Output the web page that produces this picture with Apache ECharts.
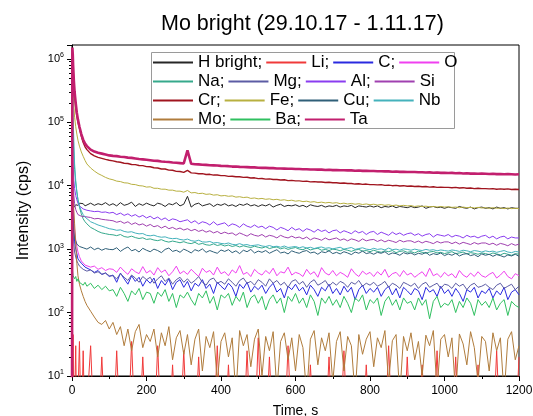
<!DOCTYPE html>
<html>
<head>
<meta charset="utf-8">
<script src="https://cdn.jsdelivr.net/npm/echarts@6/dist/echarts.min.js"></script>
<style>
  html, body { margin: 0; padding: 0; background: #fff; }
  #chart { width: 533px; height: 416px; }
</style>
</head>
<body>
<div id="chart"></div>
<script>
// time, s
var times = [0, 1, 2, 3, 5, 7, 10, 13, 16, 20, 25, 30, 35, 40, 50, 60, 70, 80, 90, 100,
  110, 120, 130, 140, 150, 160, 170, 180, 190, 200,
  210, 220, 230, 240, 250, 260, 270, 280, 290, 300,
  310, 320, 330, 340, 350, 360, 370, 380, 390, 400,
  410, 420, 430, 440, 450, 460, 470, 480, 490, 500,
  510, 520, 530, 540, 550, 560, 570, 580, 590, 600,
  610, 620, 630, 640, 650, 660, 670, 680, 690, 700,
  710, 720, 730, 740, 750, 760, 770, 780, 790, 800,
  810, 820, 830, 840, 850, 860, 870, 880, 890, 900,
  910, 920, 930, 940, 950, 960, 970, 980, 990, 1000,
  1010, 1020, 1030, 1040, 1050, 1060, 1070, 1080, 1090, 1100,
  1110, 1120, 1130, 1140, 1150, 1160, 1170, 1180, 1190, 1200];

var hBright = [100, 2000, 3500, 4200, 4600, 4800, 5000, 5200, 4900, 5300, 5000, 5200, 4800, 5100, 5300, 4900, 5200, 5000, 5400, 4900,
  5200, 4800, 5400, 4900, 5100, 5500, 4700, 5200, 4900, 5300,
  5000, 4800, 5300, 5100, 4700, 5200, 5000, 5400, 4800, 5100,
  6800, 4600, 5100, 5300, 4800, 5000, 5200, 4700, 5100, 4900,
  5200, 4800, 5000, 4700, 5100, 4900, 5200, 4800, 5000, 4700,
  5000, 4800, 5100, 4600, 4900, 5100, 4700, 4900, 4800, 5000,
  4700, 4900, 4600, 5000, 4800, 4700, 4900, 4600, 4800, 4700,
  4900, 4600, 4800, 4700, 4900, 4500, 4800, 4700, 4600, 4800,
  4600, 4800, 4500, 4700, 4600, 4800, 4500, 4700, 4600, 4500,
  4700, 4500, 4600, 4800, 4400, 4600, 4700, 4500, 4600, 4400,
  4600, 4500, 4400, 4700, 4500, 4400, 4600, 4300, 4500, 4600,
  4400, 4500, 4300, 4600, 4400, 4500, 4300, 4500, 4400, 4400];

var li = [60, 1, 1, 45, 1, 1, 30, 1, 1, 35, 1, 25, 1, 1, 30, 1, 1, 20, 1, 1,
  1, 25, 1, 1, 1, 35, 1, 1, 20, 1,
  1, 1, 30, 1, 1, 1, 15, 1, 1, 25,
  1, 1, 1, 20, 1, 1, 1, 1, 30, 1,
  1, 15, 1, 1, 1, 1, 25, 1, 1, 40,
  1, 1, 20, 1, 1, 1, 1, 30, 1, 1,
  1, 1, 1, 15, 1, 1, 1, 1, 20, 1,
  1, 1, 25, 1, 1, 1, 1, 1, 15, 1,
  1, 1, 1, 1, 30, 1, 1, 1, 1, 20,
  1, 1, 1, 15, 1, 1, 1, 25, 1, 1,
  1, 1, 20, 1, 1, 1, 1, 1, 15, 1,
  1, 1, 1, 25, 1, 1, 1, 1, 1, 20];

var c = [800, 20000, 8000, 4000, 2000, 1300, 1000, 850, 700, 650, 600, 560, 520, 540, 470, 430, 460, 400, 420, 370,
  390, 300, 420, 340, 280, 380, 310, 360, 260, 330,
  290, 350, 240, 320, 270, 340, 230, 300, 330, 250,
  310, 220, 290, 260, 330, 240, 280, 200, 300, 260,
  230, 290, 250, 180, 280, 240, 300, 210, 260, 230,
  270, 200, 250, 290, 210, 240, 170, 260, 230, 280,
  220, 250, 190, 270, 230, 180, 250, 220, 280, 200,
  240, 190, 260, 210, 250, 160, 230, 270, 200, 240,
  210, 250, 180, 230, 260, 190, 240, 170, 250, 220,
  190, 240, 220, 160, 250, 210, 230, 180, 260, 200,
  230, 180, 240, 200, 150, 230, 210, 250, 170, 220,
  200, 240, 170, 220, 190, 250, 160, 210, 230, 190];

var o = [1000, 30000, 12000, 6000, 3000, 2000, 1400, 1100, 900, 760, 650, 620, 560, 600, 520, 540, 480, 510, 460, 490,
  480, 430, 520, 450, 400, 490, 440, 410, 530, 420,
  460, 390, 510, 430, 470, 380, 440, 540, 410, 450,
  400, 480, 420, 370, 500, 430, 460, 390, 520, 410,
  440, 380, 470, 420, 550, 400, 430, 370, 480, 420,
  390, 460, 410, 500, 380, 440, 420, 520, 390, 430,
  410, 370, 480, 400, 440, 360, 510, 420, 390, 460,
  380, 430, 400, 360, 490, 410, 370, 450, 400, 430,
  370, 440, 390, 480, 360, 410, 430, 370, 460, 390,
  420, 360, 400, 440, 370, 500, 380, 410, 360, 430,
  380, 410, 350, 460, 390, 360, 420, 370, 440, 380,
  360, 400, 430, 350, 390, 450, 370, 340, 410, 380];

var na = [5000, 200000, 100000, 60000, 30000, 18000, 11000, 8000, 6000, 4600, 3600, 3000, 2700, 2500, 2200, 2050, 1900, 1800, 1750, 1700,
  1680, 1630, 1700, 1580, 1540, 1600, 1520, 1470, 1510, 1420,
  1450, 1390, 1360, 1410, 1330, 1290, 1340, 1300, 1260, 1310,
  1250, 1220, 1280, 1190, 1230, 1170, 1150, 1210, 1140, 1180,
  1120, 1160, 1100, 1140, 1080, 1130, 1090, 1060, 1110, 1070,
  1040, 1090, 1020, 1060, 1080, 1010, 1050, 990, 1030, 1060,
  1000, 980, 1040, 970, 1010, 1030, 960, 990, 950, 1000,
  980, 940, 990, 960, 920, 970, 990, 930, 950, 910,
  960, 920, 890, 940, 910, 950, 880, 920, 940, 890,
  910, 870, 930, 890, 860, 900, 920, 870, 890, 850,
  880, 910, 850, 870, 900, 840, 880, 860, 830, 870,
  850, 820, 870, 840, 810, 860, 830, 800, 850, 830];

var mg = [800, 6000, 3000, 1800, 1200, 900, 750, 650, 600, 540, 520, 480, 500, 450, 470, 420, 440, 400, 420, 380,
  380, 340, 410, 360, 320, 390, 350, 300, 370, 330,
  360, 290, 340, 380, 310, 350, 280, 330, 360, 300,
  340, 290, 320, 370, 300, 270, 330, 350, 290, 310,
  280, 340, 300, 260, 320, 350, 290, 310, 270, 330,
  300, 260, 340, 290, 320, 270, 300, 250, 310, 330,
  280, 310, 250, 300, 330, 270, 290, 320, 260, 300,
  270, 310, 290, 250, 300, 280, 320, 260, 290, 270,
  300, 260, 280, 310, 250, 290, 270, 240, 300, 280,
  260, 290, 240, 280, 300, 250, 270, 290, 240, 280,
  270, 240, 290, 260, 280, 230, 270, 290, 250, 260,
  280, 250, 230, 270, 290, 240, 260, 280, 230, 260];

var al = [2000, 60000, 30000, 20000, 12000, 9000, 7000, 6000, 5300, 4800, 4500, 4300, 4200, 4100, 4000, 3900, 3950, 3800, 3850, 3700,
  3800, 3500, 3700, 3400, 3600, 3300, 3500, 3200, 3400, 3100,
  3300, 3000, 3200, 2900, 3100, 2800, 3000, 2900, 2700, 2800,
  2900, 2600, 2800, 2500, 2700, 2600, 2400, 2700, 2400, 2500,
  2600, 2300, 2500, 2400, 2200, 2500, 2300, 2200, 2400, 2200,
  2300, 2100, 2300, 2200, 2000, 2200, 2100, 1950, 2200, 2000,
  2100, 1900, 2100, 2000, 1850, 2050, 1900, 2000, 1800, 1950,
  2000, 1800, 1950, 1850, 1750, 1950, 1800, 1900, 1700, 1850,
  1900, 1700, 1850, 1750, 1650, 1850, 1700, 1800, 1650, 1750,
  1800, 1650, 1750, 1600, 1700, 1750, 1550, 1700, 1650, 1600,
  1700, 1550, 1650, 1600, 1500, 1650, 1550, 1600, 1500, 1600,
  1650, 1500, 1600, 1450, 1550, 1600, 1450, 1550, 1500, 1500];

var si = [1500, 40000, 20000, 12000, 7000, 5200, 4200, 3800, 3500, 3400, 3300, 3200, 3250, 3100, 3150, 3000, 3050, 2950, 2900, 2850,
  2800, 2650, 2750, 2550, 2700, 2450, 2600, 2400, 2500, 2300,
  2450, 2250, 2350, 2150, 2300, 2100, 2200, 2050, 2150, 2000,
  2100, 1950, 2050, 1900, 2000, 1850, 1950, 1800, 1900, 1750,
  1850, 1750, 1800, 1650, 1800, 1700, 1600, 1750, 1650, 1600,
  1700, 1550, 1650, 1600, 1500, 1650, 1550, 1500, 1600, 1500,
  1550, 1450, 1550, 1400, 1500, 1450, 1380, 1500, 1400, 1450,
  1500, 1380, 1450, 1350, 1450, 1400, 1320, 1450, 1350, 1400,
  1420, 1320, 1400, 1300, 1380, 1330, 1270, 1380, 1300, 1350,
  1350, 1270, 1340, 1250, 1330, 1280, 1220, 1320, 1250, 1300,
  1300, 1220, 1290, 1200, 1280, 1230, 1180, 1270, 1200, 1250,
  1250, 1180, 1240, 1150, 1230, 1190, 1130, 1220, 1150, 1200];

var cr = [1, 1200000, 1000000, 700000, 400000, 260000, 170000, 125000, 100000, 80000, 60000, 48000, 41000, 37000, 32000, 29500, 28000, 27000, 26000, 25200,
  24600, 23800, 23400, 22600, 22400, 21600, 21500, 20800, 20700, 20000,
  19900, 19200, 19000, 18300, 18300, 17600, 17500, 16800, 16700, 16200,
  17400, 15900, 15800, 15400, 15500, 15000, 15100, 14700, 14700, 14400,
  14400, 14000, 14100, 13800, 13800, 13500, 13600, 13200, 13300, 12900,
  13000, 12700, 12800, 12500, 12500, 12300, 12400, 12000, 12100, 11900,
  11900, 11700, 11800, 11500, 11600, 11400, 11400, 11200, 11300, 11100,
  11100, 10900, 11000, 10800, 10800, 10600, 10700, 10500, 10600, 10400,
  10400, 10300, 10400, 10100, 10200, 10000, 10100, 9900, 10000, 9800,
  9900, 9700, 9800, 9600, 9700, 9500, 9600, 9400, 9500, 9400,
  9400, 9300, 9400, 9200, 9300, 9100, 9200, 9000, 9100, 9000,
  9000, 8900, 9000, 8800, 8900, 8800, 8900, 8700, 8800, 8700];

var fe = [500000, 800000, 500000, 300000, 180000, 120000, 85000, 65000, 52000, 42000, 34000, 29000, 25000, 22000, 19000, 17000, 15500, 14500, 13500, 12800,
  12400, 11800, 11600, 11100, 11000, 10500, 10400, 10000, 9900, 9500,
  9600, 9100, 9100, 8800, 8800, 8500, 8500, 8200, 8200, 7900,
  8400, 7700, 7800, 7500, 7600, 7300, 7400, 7100, 7200, 6900,
  7000, 6800, 6900, 6600, 6700, 6500, 6600, 6300, 6400, 6200,
  6300, 6100, 6200, 6000, 6100, 5900, 6000, 5800, 5900, 5700,
  5800, 5600, 5700, 5500, 5600, 5400, 5500, 5350, 5450, 5300,
  5400, 5200, 5300, 5150, 5250, 5100, 5200, 5050, 5150, 5000,
  5100, 4950, 5050, 4900, 5000, 4850, 4950, 4800, 4900, 4800,
  4850, 4700, 4800, 4700, 4750, 4650, 4700, 4600, 4700, 4600,
  4650, 4550, 4600, 4500, 4600, 4500, 4550, 4450, 4550, 4450,
  4500, 4400, 4500, 4400, 4450, 4350, 4450, 4350, 4400, 4350];

var cu = [1500, 8000, 4000, 2500, 1800, 1500, 1350, 1200, 1250, 1100, 1150, 1050, 1100, 1000, 1080, 980, 1040, 960, 1020, 990,
  980, 1050, 920, 1010, 1080, 940, 990, 900, 1030, 960,
  910, 1000, 950, 880, 990, 1040, 920, 960, 890, 1000,
  940, 870, 980, 930, 1010, 890, 950, 900, 860, 970,
  920, 980, 880, 940, 850, 960, 910, 990, 870, 930,
  890, 950, 860, 920, 980, 870, 900, 840, 940, 890,
  860, 920, 950, 870, 900, 830, 910, 880, 940, 850,
  890, 840, 910, 870, 820, 900, 860, 930, 850, 880,
  830, 890, 860, 910, 820, 870, 850, 800, 880, 840,
  870, 810, 860, 830, 890, 800, 850, 820, 870, 790,
  840, 800, 860, 780, 830, 850, 790, 820, 760, 840,
  800, 830, 770, 820, 790, 750, 810, 780, 830, 770];

var nb = [5000, 500000, 250000, 120000, 50000, 22000, 12000, 8000, 6000, 4800, 4000, 3500, 3200, 3000, 2700, 2550, 2400, 2300, 2200, 2100,
  2050, 1980, 2010, 1900, 1850, 1880, 1790, 1740, 1760, 1650,
  1620, 1660, 1580, 1540, 1560, 1490, 1460, 1480, 1420, 1390,
  1440, 1360, 1330, 1380, 1300, 1290, 1320, 1250, 1270, 1230,
  1210, 1250, 1190, 1170, 1220, 1160, 1180, 1130, 1150, 1170,
  1120, 1100, 1140, 1090, 1110, 1070, 1120, 1060, 1080, 1100,
  1050, 1090, 1040, 1070, 1020, 1060, 1080, 1030, 1050, 1010,
  1040, 1070, 1000, 1030, 1060, 990, 1020, 1050, 1000, 980,
  1030, 990, 1010, 970, 1040, 980, 1000, 960, 1010, 990,
  960, 1000, 970, 950, 990, 960, 980, 940, 970, 950,
  930, 970, 950, 920, 960, 940, 910, 950, 930, 900,
  940, 910, 930, 890, 920, 950, 900, 880, 920, 900];

var mo = [10, 50000, 15000, 6000, 4000, 2500, 1200, 600, 380, 280, 220, 180, 150, 130, 105, 85, 70, 65, 75, 55,
  70, 45, 60, 30, 55, 25, 50, 65, 28, 45,
  35, 55, 20, 48, 30, 60, 18, 40, 52, 22,
  45, 15, 38, 55, 12, 42, 28, 50, 8, 35,
  48, 20, 40, 5, 52, 30, 45, 14, 38, 55,
  10, 42, 25, 50, 6, 35, 48, 18, 40, 12,
  45, 28, 5, 38, 52, 15, 40, 25, 48, 8,
  35, 50, 12, 42, 30, 5, 45, 22, 38, 50,
  14, 40, 28, 52, 8, 36, 45, 5, 42, 25,
  48, 18, 35, 10, 44, 30, 52, 6, 38, 45,
  20, 40, 5, 46, 32, 15, 50, 28, 8, 42,
  35, 12, 48, 25, 40, 5, 38, 50, 18, 30];

var ba = [150, 480, 420, 380, 400, 340, 370, 310, 340, 300, 320, 270, 300, 260, 290, 240, 270, 230, 260, 220,
  230, 180, 250, 200, 150, 220, 190, 240, 160, 210,
  200, 140, 210, 180, 230, 150, 200, 120, 190, 170,
  210, 160, 130, 200, 170, 220, 140, 180, 110, 190,
  170, 200, 130, 180, 150, 210, 120, 170, 190, 140,
  180, 110, 160, 190, 140, 170, 100, 180, 150, 200,
  140, 170, 120, 190, 150, 90, 170, 140, 180, 130,
  160, 120, 180, 140, 100, 170, 150, 190, 110, 160,
  140, 170, 90, 150, 180, 130, 160, 110, 170, 140,
  150, 110, 170, 130, 160, 80, 150, 180, 120, 140,
  130, 160, 100, 150, 120, 170, 140, 90, 160, 130,
  150, 120, 170, 110, 140, 160, 90, 150, 130, 120];

var ta = [1, 1500000, 1200000, 800000, 450000, 300000, 200000, 140000, 110000, 85000, 65000, 53000, 46000, 42000, 37000, 34500, 33000, 32000, 31000, 30000,
  29500, 29200, 28600, 28300, 27700, 27400, 26900, 26400, 26000, 25600,
  25200, 24700, 24600, 24100, 23800, 23600, 23200, 23000, 22700, 22400,
  36000, 22100, 21800, 21700, 21400, 21300, 21000, 20900, 20800, 20500,
  20400, 20300, 20000, 20100, 19800, 19700, 19600, 19400, 19400, 19200,
  19100, 19100, 18900, 18900, 18700, 18700, 18600, 18500, 18500, 18300,
  18300, 18200, 18200, 18000, 18000, 17900, 17900, 17700, 17800, 17600,
  17600, 17500, 17500, 17400, 17400, 17200, 17300, 17100, 17200, 17000,
  17000, 16900, 16900, 16800, 16800, 16600, 16700, 16500, 16600, 16400,
  16400, 16400, 16300, 16300, 16100, 16200, 16000, 16100, 15900, 16000,
  15800, 15900, 15700, 15800, 15600, 15700, 15500, 15600, 15400, 15500,
  15400, 15300, 15400, 15200, 15300, 15100, 15200, 15100, 15000, 15100];

var names = ['H bright', 'Li', 'C', 'O', 'Na', 'Mg', 'Al', 'Si', 'Cr', 'Fe', 'Cu', 'Nb', 'Mo', 'Ba', 'Ta'];
var values = [hBright, li, c, o, na, mg, al, si, cr, fe, cu, nb, mo, ba, ta];
var colors = ['#262626', '#f03a3a', '#2a2ae0', '#f040f0', '#36a98c', '#5c5ca4', '#8a3cf0', '#a040b0',
  '#a0141e', '#b8b040', '#2f5f78', '#44b2bc', '#b07c3c', '#30c060', '#c21f6e'];
var widths = [1, 1, 1, 1, 1, 1, 1, 1, 1.4, 1, 1, 1, 1, 1, 2.6];
var legendRows = [['H bright', 'Li', 'C', 'O'], ['Na', 'Mg', 'Al', 'Si'], ['Cr', 'Fe', 'Cu', 'Nb'], ['Mo', 'Ba', 'Ta']];

var font = 'Liberation Sans, Arial, sans-serif';

var series = names.map(function (name, k) {
  return {
    name: name,
    type: 'line',
    symbol: 'none',
    showSymbol: false,
    clip: true,
    color: colors[k],
    lineStyle: { width: widths[k], color: colors[k] },
    data: times.map(function (t, i) { return [t, values[k][i]]; })
  };
});

var legends = legendRows.map(function (row, r) {
  return {
    data: row,
    left: 152,
    top: 54 + r * 19,
    orient: 'horizontal',
    itemWidth: 40,
    itemHeight: 14,
    itemGap: 3,
    padding: 0,
    selectedMode: false,
    itemStyle: { opacity: 0 },
    textStyle: { fontSize: 17, color: '#000', fontFamily: font },
    formatter: function (name) {
      return row.indexOf(name) === row.length - 1 ? name : name + ';';
    }
  };
});

var chart = echarts.init(document.getElementById('chart'));
chart.setOption({
  animation: false,
  backgroundColor: '#fff',
  title: {
    text: 'Mo bright (29.10.17 - 1.11.17)',
    left: 156,
    top: 8,
    textStyle: { fontSize: 21.5, fontWeight: 'normal', color: '#000', fontFamily: font }
  },
  graphic: [{
    type: 'rect',
    z: 3,
    shape: { x: 151.5, y: 52.5, width: 303, height: 76 },
    style: { fill: '#fff', stroke: '#9a9a9a', lineWidth: 1 }
  }],
  legend: legends,
  grid: {
    left: 72,
    right: 14,
    top: 45,
    bottom: 40,
    outerBoundsMode: 'none',
    show: true,
    borderColor: '#000',
    borderWidth: 1
  },
  xAxis: {
    type: 'value',
    min: 0,
    max: 1200,
    interval: 200,
    name: 'Time, s',
    nameLocation: 'middle',
    nameGap: 28,
    nameTextStyle: { fontSize: 14, color: '#000', fontFamily: font },
    axisLine: { lineStyle: { color: '#000', width: 1 } },
    axisTick: { inside: false, length: 5, lineStyle: { color: '#000' } },
    minorTick: { show: true, splitNumber: 2, length: 3, lineStyle: { color: '#000' } },
    splitLine: { show: false },
    axisLabel: {
      fontSize: 12, color: '#000', margin: 9, fontFamily: font,
      formatter: function (v) { return String(v); }
    }
  },
  yAxis: {
    type: 'log',
    logBase: 10,
    min: 10,
    max: 1650000,
    name: 'Intensity (cps)',
    nameLocation: 'middle',
    nameGap: 40,
    nameTextStyle: { fontSize: 16, color: '#000', fontFamily: font },
    axisLine: { show: true, lineStyle: { color: '#000', width: 1 } },
    axisTick: { show: true, inside: false, length: 5, lineStyle: { color: '#000' } },
    minorTick: { show: true, splitNumber: 9, length: 3, lineStyle: { color: '#000' } },
    splitLine: { show: false },
    axisLabel: {
      margin: 8,
      color: '#000',
      fontFamily: font,
      formatter: function (v) {
        var e = Math.log10(v);
        var r = Math.round(e);
        if (Math.abs(e - r) > 1e-6) { return ''; }
        return '{b|10}{s|' + r + '}';
      },
      rich: {
        b: { fontSize: 11, color: '#000', fontFamily: font },
        s: { fontSize: 7, color: '#000', fontFamily: font, padding: [0, 0, 7, 0] }
      }
    }
  },
  series: series
});
</script>
</body>
</html>
